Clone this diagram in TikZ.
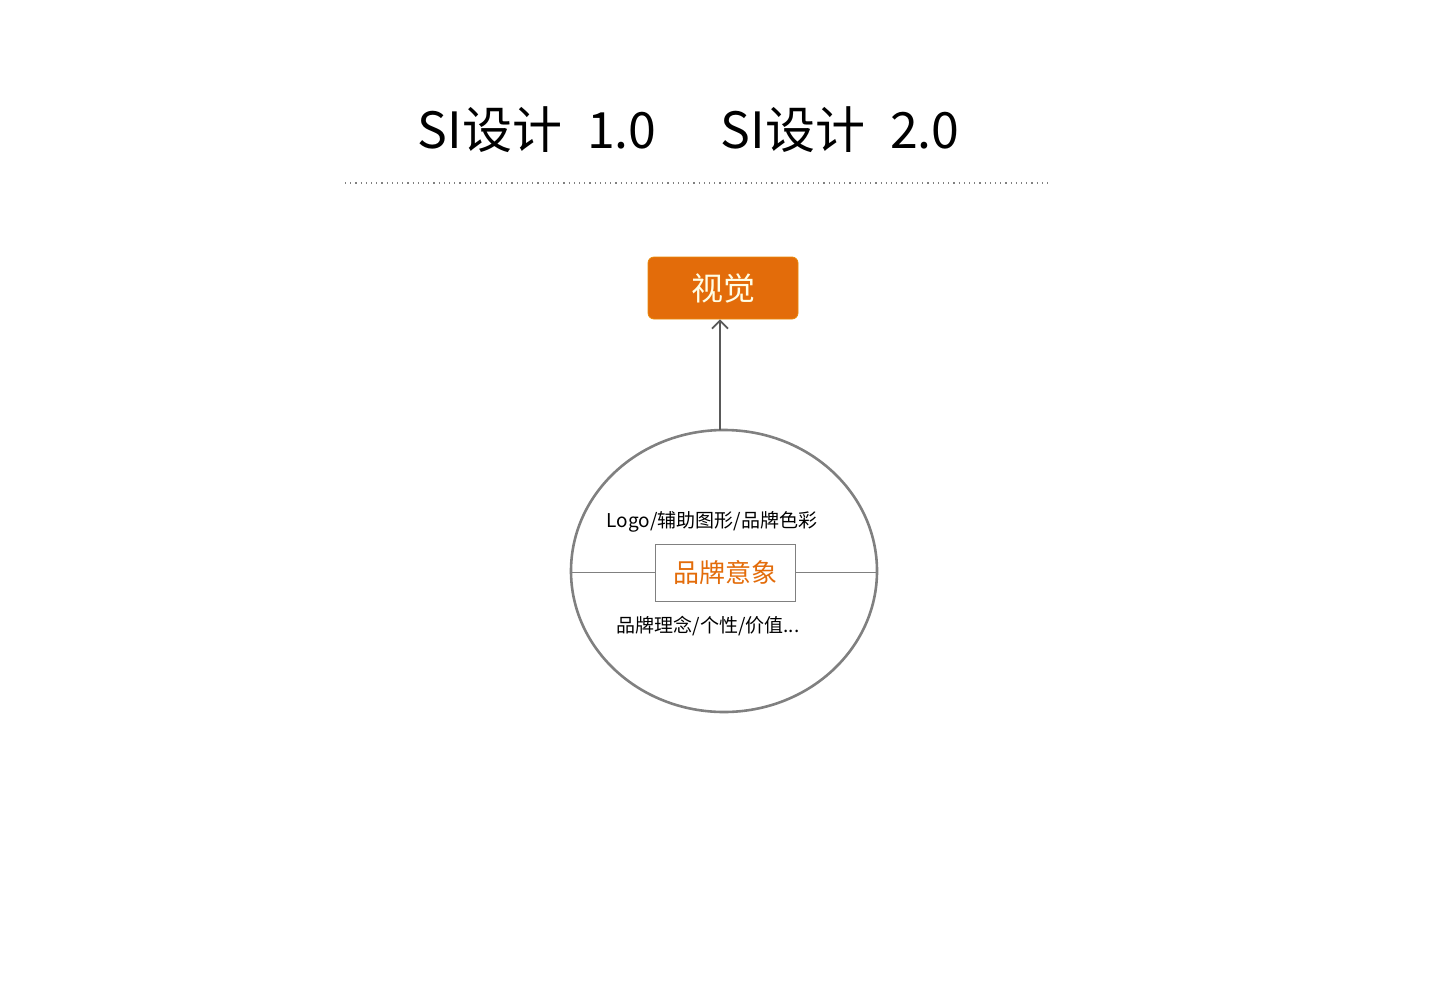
\documentclass[tikz,border=0pt]{standalone}
\usepackage{fontspec}
\usetikzlibrary{arrows.meta}
\setmainfont{Noto Sans CJK SC}
\definecolor{orangebox}{HTML}{E36C0A}
\definecolor{linegray}{HTML}{808080}
\definecolor{arrowgray}{HTML}{595959}
\begin{document}
\begin{tikzpicture}[x=0.5pt,y=-0.5pt,
  title/.style={font=\fontsize{25}{30}\selectfont, inner sep=0pt, text=black},
  visbox/.style={draw=orangebox!80!yellow, fill=orangebox, rounded corners=3pt, minimum width=75pt, minimum height=31pt, inner sep=0pt, text=white!90!yellow, font=\fontsize{16}{19}\selectfont},
  corebox/.style={draw=linegray, line width=0.5pt, fill=white, minimum width=70pt, minimum height=28.5pt, inner sep=0pt, text=orangebox, font=\fontsize{13}{16}\selectfont},
  smalltext/.style={inner sep=0pt, font=\fontsize{9.5}{12}\selectfont, text=black},
  ring/.style={draw=linegray, line width=1.3pt},
  conn/.style={draw=arrowgray, line width=0.9pt},
]
\useasboundingbox (0,0) rectangle (1440,996);
\node[title] (t1) at (537,130) {SI设计\hspace{0.5em}1.0};
\node[title] (t2) at (840,130) {SI设计\hspace{0.5em}2.0};
\draw[linegray, line width=0.6pt, dotted] (345,183) coordinate (ls) -- (1050,183) coordinate (le);
\node[visbox] (vis) at (723,288) {视觉};
\draw[ring] (724,571) ellipse [x radius=153, y radius=141];
\coordinate (ctop) at (720,430);
\coordinate (cl) at (571,571);
\coordinate (cr) at (877,571);
\node[corebox] (core) at (725,572.5) {品牌意象};
\draw[linegray, line width=0.6pt] (core.west) -- (core.west -| cl);
\draw[linegray, line width=0.6pt] (core.east) -- (core.east -| cr);
\draw[conn, -{Straight Barb[length=4pt,width=8pt]}] (ctop) -- (ctop |- vis.south);
\node[smalltext] (top) at (712,522) {Logo/辅助图形/品牌色彩};
\node[smalltext] (bot) at (708,626) {品牌理念/个性/价值...};
\end{tikzpicture}
\end{document}
